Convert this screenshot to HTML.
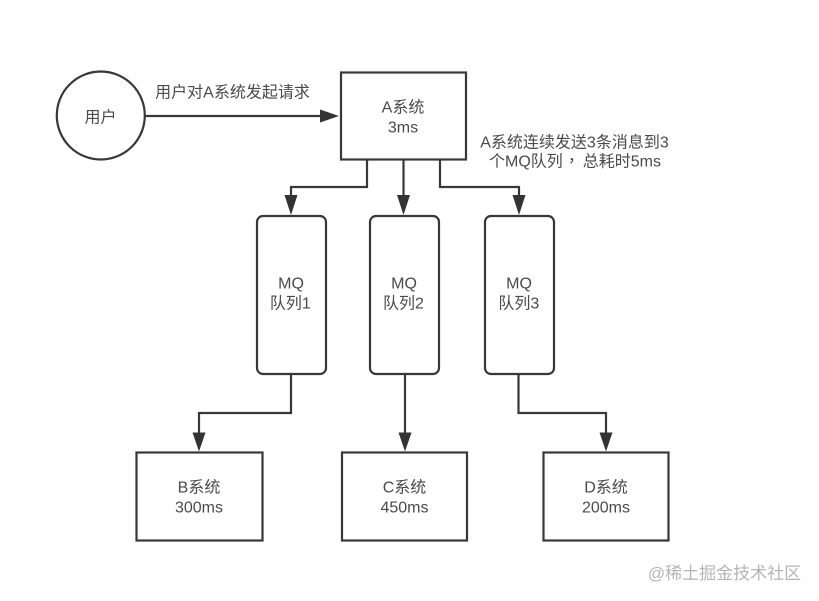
<!DOCTYPE html>
<html><head><meta charset="utf-8">
<style>
html,body{margin:0;padding:0;background:#fff}
svg{display:block}
text{font-family:"Liberation Sans","Noto Sans CJK SC",sans-serif;font-size:16px;fill:#4a4a4a;text-anchor:middle}
.b{fill:#fff;stroke:#383838;stroke-width:2.2}
.l{fill:none;stroke:#383838;stroke-width:2.2}
.a{fill:#333}
#g{filter:blur(.35px)}
</style></head><body>
<svg width="819" height="601" viewBox="0 0 819 601" xmlns="http://www.w3.org/2000/svg">
<rect width="819" height="601" fill="#fff"/>
<g id="g">
<circle cx="100.8" cy="115.5" r="44" class="b"/>
<text x="100.5" y="122.5">用户</text>
<path d="M145 116H322" class="l"/><path d="M339 116L320 109.5V122.5Z" class="a"/>
<text x="232.5" y="97.5">用户对A系统发起请求</text>
<rect x="341" y="72.5" width="125" height="87" class="b"/>
<text x="403" y="112.5">A系统</text><text x="403" y="132.5">3ms</text>
<text x="574.5" y="147.5">A系统连续发送3条消息到3</text>
<text x="575" y="166.5">个MQ队列<tspan dx="1" style="font-family:'Noto Sans CJK TC',sans-serif">，</tspan><tspan dx="3">总耗时5ms</tspan></text>

<path d="M367 160V187H291V198" class="l"/><path d="M291 215L284.5 195H297.5Z" class="a"/>
<path d="M403.5 160V198" class="l"/><path d="M403.5 215L397 195H410Z" class="a"/>
<path d="M440 160V187H519V198" class="l"/><path d="M519 215L512.5 195H525.5Z" class="a"/>

<rect x="257" y="216" width="69" height="158" rx="6" class="b"/>
<rect x="370" y="216" width="69" height="158" rx="6" class="b"/>
<rect x="485" y="216" width="69" height="158" rx="6" class="b"/>
<text x="291" y="288.5">MQ</text><text x="290.3" y="308.5">队列1</text>
<text x="404" y="288.5">MQ</text><text x="403.5" y="308.5">队列2</text>
<text x="519" y="288.5">MQ</text><text x="518.8" y="308.5">队列3</text>

<path d="M291 375V413H199V435" class="l"/><path d="M199 451.5L192.5 432.5H205.5Z" class="a"/>
<path d="M405 375V435" class="l"/><path d="M405 451.5L398.5 432.5H411.5Z" class="a"/>
<path d="M518.5 375V413H606V435" class="l"/><path d="M606 451.5L599.5 432.5H612.5Z" class="a"/>

<rect x="136.5" y="452.5" width="126" height="88" class="b"/>
<rect x="342" y="452.5" width="125" height="88" class="b"/>
<rect x="543.5" y="452.5" width="125" height="88" class="b"/>
<text x="199" y="492.5">B系统</text><text x="199" y="512.5">300ms</text>
<text x="404.5" y="492.5">C系统</text><text x="404.5" y="512.5">450ms</text>
<text x="606" y="492.5">D系统</text><text x="606" y="512.5">200ms</text>
<text x="724.5" y="579" style="font-size:17px;fill:#b5b5b5">@稀土掘金技术社区</text>
</g>
</svg>
</body></html>
